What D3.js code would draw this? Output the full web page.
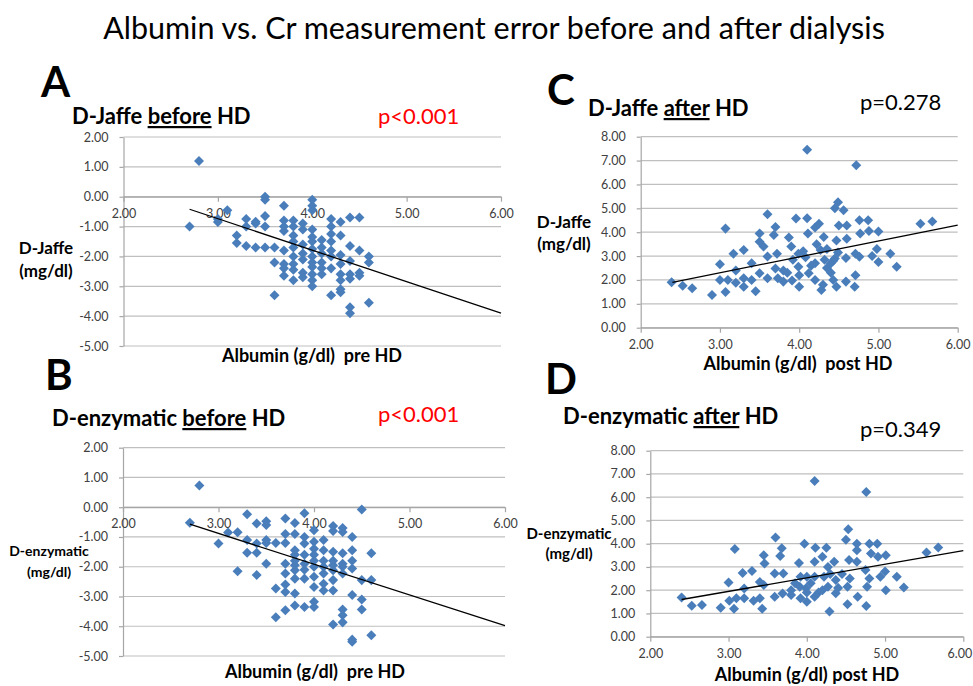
<!DOCTYPE html>
<html>
<head>
<meta charset="utf-8">
<script src="https://cdn.jsdelivr.net/npm/d3@7"></script>
<style>
  body { margin: 0; background: #fff; }
  text { font-family: Lato, "Open Sans", sans-serif; white-space: pre; }
</style>
</head>
<body>
<div class="canva"></div>
<script>
// [albumin, difference] pairs
const jaffeBefore = [
  [2.8,1.2],[2.7,-1.0],[3.0,-0.75],[3.0,-0.85],[3.1,-0.45],[3.2,-1.3],[3.2,-1.55],
  [3.3,-0.75],[3.3,-1.0],[3.3,-1.65],[3.4,-0.9],[3.4,-1.7],[3.4,-0.84],
  [3.5,0.0],[3.5,-0.1],[3.5,-0.65],[3.5,-1.0],[3.5,-1.7],
  [3.6,-1.7],[3.6,-2.2],[3.6,-3.3],
  [3.7,-0.3],[3.7,-0.8],[3.7,-1.0],[3.7,-1.15],[3.7,-1.8],[3.7,-2.25],[3.7,-2.4],[3.7,-2.65],
  [3.8,-0.8],[3.8,-1.0],[3.8,-1.3],[3.8,-1.5],[3.8,-1.7],[3.8,-2.0],[3.8,-2.25],[3.8,-2.45],[3.8,-2.8],
  [3.9,-0.9],[3.9,-1.1],[3.9,-1.6],[3.9,-1.9],[3.9,-2.1],[3.9,-2.55],[3.9,-2.7],
  [4.0,-0.1],[4.0,-0.3],[4.0,-0.45],[4.0,-1.1],[4.0,-1.35],[4.0,-1.5],[4.0,-1.75],[4.0,-2.0],
  [4.0,-2.2],[4.0,-2.35],[4.0,-2.6],[4.0,-2.8],[4.0,-3.0],
  [4.1,-1.45],[4.1,-1.7],[4.1,-1.9],[4.1,-2.2],[4.1,-2.4],[4.1,-2.6],
  [4.2,-0.75],[4.2,-1.0],[4.2,-1.25],[4.2,-1.5],[4.2,-1.8],[4.2,-2.0],[4.2,-2.4],[4.2,-3.3],
  [4.3,-0.85],[4.3,-1.3],[4.3,-1.95],[4.3,-2.25],[4.3,-2.6],[4.3,-2.8],[4.3,-3.1],[4.3,-3.2],
  [4.4,-0.7],[4.4,-1.65],[4.4,-2.15],[4.4,-2.6],[4.4,-2.75],[4.4,-3.7],[4.4,-3.9],
  [4.5,-0.7],[4.5,-1.8],[4.5,-2.55],[4.5,-2.65],
  [4.6,-2.0],[4.6,-2.2],[4.6,-3.55]
];

const enzBefore = [
  [2.8,0.73],[2.7,-0.52],[3.0,-1.22],[3.1,-0.85],[3.2,-0.84],[3.2,-2.15],
  [3.3,-0.24],[3.3,-1.1],[3.3,-1.53],[3.4,-0.55],[3.4,-1.22],[3.4,-1.53],[3.4,-2.28],
  [3.5,-0.47],[3.5,-0.6],[3.5,-1.1],[3.5,-1.2],[3.5,-1.9],
  [3.6,-1.2],[3.6,-2.73],[3.6,-3.7],
  [3.7,-0.38],[3.7,-0.9],[3.7,-1.2],[3.7,-1.9],[3.7,-2.23],[3.7,-2.6],[3.7,-2.85],[3.7,-3.46],
  [3.8,-0.53],[3.8,-0.9],[3.8,-1.45],[3.8,-1.6],[3.8,-1.8],[3.8,-1.95],[3.8,-2.12],[3.8,-2.4],[3.8,-2.9],[3.8,-3.3],
  [3.9,-0.2],[3.9,-1.0],[3.9,-1.22],[3.9,-1.6],[3.9,-1.9],[3.9,-2.1],[3.9,-2.4],[3.9,-3.35],
  [4.0,-0.77],[4.0,-1.16],[4.0,-1.4],[4.0,-1.6],[4.0,-1.8],[4.0,-2.0],[4.0,-2.34],[4.0,-2.68],[4.0,-3.18],[4.0,-3.35],
  [4.1,-1.1],[4.1,-1.45],[4.1,-1.8],[4.1,-2.0],[4.1,-2.23],[4.1,-2.57],[4.1,-2.8],
  [4.2,-0.63],[4.2,-0.8],[4.2,-1.5],[4.2,-1.8],[4.2,-1.95],[4.2,-2.12],[4.2,-2.45],[4.2,-2.8],[4.2,-3.94],
  [4.3,-0.7],[4.3,-0.83],[4.3,-1.55],[4.3,-1.9],[4.3,-2.0],[4.3,-2.23],[4.3,-3.44],[4.3,-3.63],[4.3,-3.87],
  [4.4,-1.0],[4.4,-1.45],[4.4,-1.8],[4.4,-2.06],[4.4,-2.95],[4.4,-4.45],[4.4,-4.52],
  [4.5,-0.08],[4.5,-2.45],[4.5,-3.1],[4.5,-3.44],
  [4.6,-1.55],[4.6,-2.45],[4.6,-4.3]
];

const jaffeAfter = [
  [2.39,1.9],[2.53,1.76],[2.65,1.65],[2.9,1.37],[3.0,2.66],[3.0,2.0],
  [3.07,4.15],[3.07,1.5],[3.1,2.0],[3.17,3.1],[3.2,1.88],[3.2,2.4],
  [3.3,3.25],[3.3,1.72],[3.3,2.07],[3.4,2.7],[3.4,2.0],[3.45,1.53],
  [3.5,3.95],[3.5,3.6],[3.5,2.28],[3.55,3.4],[3.6,4.75],[3.6,2.98],[3.6,2.07],
  [3.7,4.22],[3.68,3.88],[3.72,3.1],[3.7,2.48],[3.73,2.07],[3.8,2.4],[3.8,1.93],
  [3.87,3.78],[3.9,3.4],[3.92,2.85],[3.91,1.98],[3.85,2.3],
  [3.96,4.57],[3.99,3.1],[3.99,2.55],[4.0,1.72],[4.0,2.2],[4.05,3.2],
  [4.1,7.45],[4.1,4.58],[4.11,3.95],[4.08,2.95],[4.12,2.28],[4.15,2.6],
  [4.2,4.2],[4.22,3.5],[4.2,2.7],[4.2,2.0],[4.25,4.35],[4.27,3.25],[4.28,1.58],
  [4.31,3.8],[4.32,2.85],[4.35,2.5],[4.35,3.3],[4.3,1.8],[4.4,2.3],[4.4,2.7],[4.45,2.9],
  [4.45,5.0],[4.47,3.65],[4.43,2.8],[4.43,2.0],[4.49,5.25],[4.5,4.28],[4.49,3.15],[4.47,1.72],
  [4.56,4.92],[4.6,4.28],[4.6,3.73],[4.59,2.92],[4.59,1.93],
  [4.72,6.8],[4.71,2.2],[4.7,1.72],[4.71,3.1],[4.76,4.5],[4.77,3.95],[4.76,2.97],
  [4.87,4.5],[4.88,4.05],[4.92,3.0],[5.0,4.03],[4.98,3.3],[5.0,2.75],
  [5.15,3.1],[5.23,2.55],[5.53,4.35],[5.68,4.45]
];

const enzAfter = [
  [2.4,1.69],[2.53,1.33],[2.66,1.36],[2.9,1.25],[3.0,2.33],[3.01,1.55],
  [3.08,3.77],[3.07,1.2],[3.1,1.65],[3.18,2.74],[3.2,2.07],[3.2,1.65],
  [3.3,2.83],[3.32,1.55],[3.4,2.35],[3.4,1.65],[3.43,1.2],
  [3.45,3.5],[3.46,3.15],[3.45,2.22],[3.6,4.27],[3.59,2.72],[3.59,1.72],
  [3.68,3.8],[3.66,3.47],[3.7,2.72],[3.69,1.86],[3.8,2.0],[3.8,1.79],[3.85,2.3],
  [3.9,3.17],[3.92,2.58],[3.91,2.15],[3.92,1.65],[3.97,4.0],[4.0,2.58],[3.99,2.08],[4.0,1.5],
  [4.0,1.9],[4.05,2.3],[4.1,6.7],[4.11,3.83],[4.1,3.22],[4.1,2.58],[4.1,1.72],[4.15,1.9],
  [4.2,3.44],[4.22,2.58],[4.2,2.0],[4.25,3.83],[4.27,3.0],[4.27,2.15],[4.29,1.08],
  [4.3,2.7],[4.35,3.22],[4.37,2.44],[4.37,1.87],[4.4,2.1],[4.45,2.7],
  [4.5,4.17],[4.53,4.62],[4.54,3.3],[4.52,2.15],[4.52,1.4],[4.55,2.5],
  [4.64,4.0],[4.64,3.72],[4.64,3.22],[4.65,1.72],
  [4.76,6.22],[4.75,2.87],[4.76,1.32],[4.77,2.15],[4.8,4.0],[4.82,3.58],[4.8,2.5],
  [4.9,4.0],[4.91,3.44],[4.94,2.58],[5.01,3.5],[5.0,2.8],[5.01,2.0],
  [5.15,2.58],[5.24,2.12],[5.53,3.62],[5.68,3.84]
];

// trend line end points
const trendJaffeBefore = [[2.7, -0.42], [6.0, -3.9]];
const trendEnzBefore = [[2.7, -0.57], [6.0, -3.98]];
const trendJaffeAfter = [[2.4, 1.9], [6.0, 4.3]];
const trendEnzAfter = [[2.4, 1.6], [6.0, 3.7]];

const xTicks = [2, 3, 4, 5, 6];
const yTicksBefore = [2, 1, 0, -1, -2, -3, -4, -5];
const yTicksAfter = [0, 1, 2, 3, 4, 5, 6, 7, 8];

const svg = d3.select('.canva')
              .append('svg')
              .attr('width', 973)
              .attr('height', 686);

svg.append('text')
   .attr('x', 494)
   .attr('y', 39)
   .attr('text-anchor', 'middle')
   .attr('font-size', 30.5)
   .attr('fill', '#000')
   .text('Albumin vs. Cr measurement error before and after dialysis');

const panels = [
  {
    data: jaffeBefore, trend: trendJaffeBefore, yTicks: yTicksBefore, xCross: 0,
    left: 123.5, right: 501, top: 137, bottom: 346,
    letter: 'A', letterX: 41, letterY: 97,
    title: ['D-Jaffe ', 'before', ' HD'], titleX: 72, titleY: 124,
    p: 'p<0.001', pColor: '#ff0000', pX: 378, pY: 124,
    yTitle: ['D-Jaffe', '(mg/dl)'], yTitleX: 46, yTitleY: [254, 277], yTitleSize: 17,
    xTitle: 'Albumin (g/dl)  pre HD', xTitleX: 312, xTitleY: 362
  },
  {
    data: enzBefore, trend: trendEnzBefore, yTicks: yTicksBefore, xCross: 0,
    left: 123, right: 505, top: 447.7, bottom: 656,
    letter: 'B', letterX: 45, letterY: 390,
    title: ['D-enzymatic ', 'before', ' HD'], titleX: 52, titleY: 426,
    p: 'p<0.001', pColor: '#ff0000', pX: 378, pY: 422,
    yTitle: ['D-enzymatic', '(mg/dl)'], yTitleX: 49, yTitleY: [556, 577], yTitleSize: 14,
    xTitle: 'Albumin (g/dl)  pre HD', xTitleX: 315, xTitleY: 678
  },
  {
    data: jaffeAfter, trend: trendJaffeAfter, yTicks: yTicksAfter, xCross: 0,
    left: 640.7, right: 957.7, top: 136.7, bottom: 327.7,
    letter: 'C', letterX: 547, letterY: 105,
    title: ['D-Jaffe ', 'after', ' HD'], titleX: 588, titleY: 116,
    p: 'p=0.278', pColor: '#000', pX: 860, pY: 110,
    yTitle: ['D-Jaffe', '(mg/dl)'], yTitleX: 564, yTitleY: [228, 250], yTitleSize: 17,
    xTitle: 'Albumin (g/dl)  post HD', xTitleX: 798, xTitleY: 370
  },
  {
    data: enzAfter, trend: trendEnzAfter, yTicks: yTicksAfter, xCross: 0,
    left: 650.3, right: 963.3, top: 450.7, bottom: 636.7,
    letter: 'D', letterX: 545, letterY: 394,
    title: ['D-enzymatic ', 'after', ' HD'], titleX: 563, titleY: 424,
    p: 'p=0.349', pColor: '#000', pX: 860, pY: 437,
    yTitle: ['D-enzymatic', '(mg/dl)'], yTitleX: 569, yTitleY: [539, 559], yTitleSize: 15,
    xTitle: 'Albumin (g/dl) post HD', xTitleX: 807, xTitleY: 681
  }
];

const fmt = d => d.toFixed(2);
const diamond = d3.symbol().type(d3.symbolDiamond2).size(64);

panels.forEach(p => {
  const x = d3.scaleLinear()
              .domain([2, 6])
              .range([p.left, p.right]);
  const y = d3.scaleLinear()
              .domain(d3.extent(p.yTicks))
              .range([p.bottom, p.top]);

  const g = svg.append('g');

  // horizontal gridlines
  g.selectAll('line.grid')
   .data(p.yTicks)
   .enter().append('line')
   .attr('class', 'grid')
   .attr('x1', p.left)
   .attr('x2', p.right)
   .attr('y1', d => y(d))
   .attr('y2', d => y(d))
   .attr('stroke', '#bfbfbf')
   .attr('stroke-width', 1.2);

  const yAxis = d3.axisLeft(y)
                  .tickValues(p.yTicks)
                  .tickFormat(fmt)
                  .tickSize(4)
                  .tickSizeOuter(0)
                  .tickPadding(11);
  const xAxis = d3.axisBottom(x)
                  .tickValues(xTicks)
                  .tickFormat(fmt)
                  .tickSize(5)
                  .tickSizeOuter(0)
                  .tickPadding(7);

  const yAxisGroup = g.append('g')
                      .attr('transform', `translate(${p.left}, 0)`)
                      .call(yAxis);
  const xAxisGroup = g.append('g')
                      .attr('transform', `translate(0, ${y(p.xCross)})`)
                      .call(xAxis);

  [yAxisGroup, xAxisGroup].forEach(ax => {
    ax.select('.domain').attr('stroke', '#a6a6a6').attr('stroke-width', 1.2);
    ax.selectAll('.tick line').attr('stroke', '#a6a6a6').attr('stroke-width', 1.2);
    ax.selectAll('.tick text')
      .attr('fill', '#404040')
      .attr('font-size', 12.5)
      .style('font-family', 'Lato, "Open Sans", sans-serif');
  });

  // keep the last x label inside the page
  if (p.right > 960) {
    xAxisGroup.selectAll('.tick text').filter(d => d === 6).attr('dx', -4);
  }

  // points
  g.selectAll('path.pt')
   .data(p.data)
   .enter().append('path')
   .attr('class', 'pt')
   .attr('d', diamond)
   .attr('transform', d => `translate(${x(d[0])}, ${y(d[1])})`)
   .attr('fill', '#4a7ebb');

  // trend line
  g.append('path')
   .datum(p.trend)
   .attr('d', d3.line().x(d => x(d[0])).y(d => y(d[1])))
   .attr('stroke', '#000')
   .attr('stroke-width', 1.3)
   .attr('fill', 'none');

  // texts
  svg.append('text')
     .attr('x', p.letterX)
     .attr('y', p.letterY)
     .attr('font-size', 42)
     .attr('font-weight', 'bold')
     .text(p.letter);

  const t = svg.append('text')
               .attr('x', p.titleX)
               .attr('y', p.titleY)
               .attr('font-size', 22)
               .attr('font-weight', 'bold');
  t.append('tspan').text(p.title[0]);
  t.append('tspan').style('text-decoration', 'underline').text(p.title[1]);
  t.append('tspan').text(p.title[2]);

  svg.append('text')
     .attr('x', p.pX)
     .attr('y', p.pY)
     .attr('font-size', 22)
     .attr('fill', p.pColor)
     .text(p.p);

  p.yTitle.forEach((s, i) => {
    svg.append('text')
       .attr('x', p.yTitleX)
       .attr('y', p.yTitleY[i])
       .attr('text-anchor', 'middle')
       .attr('font-size', p.yTitleSize)
       .attr('font-weight', 'bold')
       .text(s);
  });

  svg.append('text')
     .attr('x', p.xTitleX)
     .attr('y', p.xTitleY)
     .attr('text-anchor', 'middle')
     .attr('font-size', 18)
     .attr('font-weight', 'bold')
     .text(p.xTitle);
});
</script>
</body>
</html>
